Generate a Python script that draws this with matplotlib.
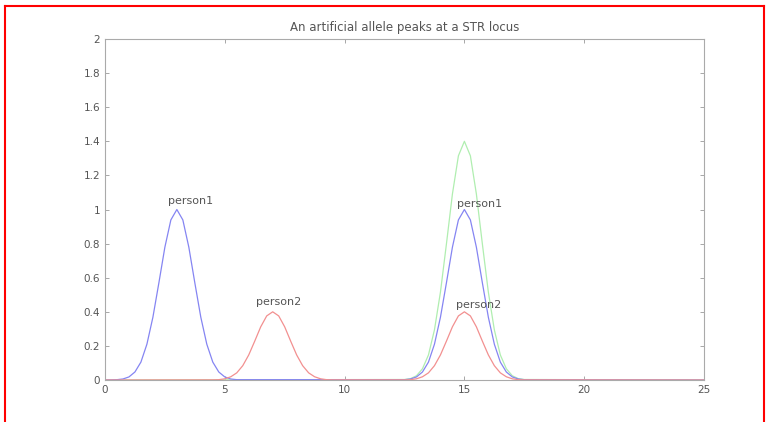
import matplotlib
matplotlib.use("Agg")
import matplotlib.pyplot as plt
import numpy as np
from matplotlib.lines import Line2D

plt.rcParams['font.family'] = ['DejaVu Sans']

# offsets around each allele peak (x units)
offsets = np.arange(-2.5, 2.51, 0.25)

# person1 peaks (height 1) at 3 and 15
p1_centres = [3, 15]
p1_a = [0.002, 0.006, 0.018, 0.047, 0.105, 0.210, 0.368, 0.570, 0.779, 0.939, 1.000,
        0.939, 0.779, 0.570, 0.368, 0.210, 0.105, 0.047, 0.018, 0.006, 0.002]
p1_b = [0.002, 0.006, 0.018, 0.047, 0.105, 0.210, 0.368, 0.570, 0.779, 0.939, 1.000,
        0.939, 0.779, 0.570, 0.368, 0.210, 0.105, 0.047, 0.018, 0.006, 0.002]

# person2 peaks (height 0.4) at 7 and 15
p2_centres = [7, 15]
p2_a = [0.001, 0.002, 0.007, 0.019, 0.042, 0.084, 0.147, 0.228, 0.312, 0.376, 0.400,
        0.376, 0.312, 0.228, 0.147, 0.084, 0.042, 0.019, 0.007, 0.002, 0.001]
p2_b = [0.001, 0.002, 0.007, 0.019, 0.042, 0.084, 0.147, 0.228, 0.312, 0.376, 0.400,
        0.376, 0.312, 0.228, 0.147, 0.084, 0.042, 0.019, 0.007, 0.002, 0.001]

# mixture at the shared allele 15
mix_centre = 15
mix = [0.003, 0.008, 0.025, 0.066, 0.147, 0.294, 0.515, 0.798, 1.091, 1.315, 1.400,
       1.315, 1.091, 0.798, 0.515, 0.294, 0.147, 0.066, 0.025, 0.008, 0.003]

labels = ["person1", "person1", "person2", "person2"]
label_x = [2.65, 14.7, 6.3, 14.65]
label_y = [1.05, 1.03, 0.46, 0.44]

x_ticks = [0, 5, 10, 15, 20, 25]
y_ticks = [0, 0.2, 0.4, 0.6, 0.8, 1, 1.2, 1.4, 1.6, 1.8, 2]

fig = plt.figure(figsize=(7.69, 4.22), dpi=100)
ax = fig.add_axes([0.1365, 0.0995, 0.779, 0.808])

blue_x = np.concatenate([[0], p1_centres[0] + offsets, p1_centres[1] + offsets, [25]])
blue_y = np.concatenate([[0], p1_a, p1_b, [0]])
red_x = np.concatenate([[0], p2_centres[0] + offsets, p2_centres[1] + offsets, [25]])
red_y = np.concatenate([[0], p2_a, p2_b, [0]])
green_x = np.concatenate([[0], mix_centre + offsets, [25]])
green_y = np.concatenate([[0], mix, [0]])

ax.plot(green_x, green_y, color='#b0eeb0', lw=0.9)
ax.plot(blue_x, blue_y, color='#8585f2', lw=0.9)
ax.plot(red_x, red_y, color='#f29090', lw=0.9)

for t, tx, ty in zip(labels, label_x, label_y):
    ax.text(tx, ty, t, fontsize=8, color='#555555', va='center', ha='left')

ax.set_xlim(0, 25)
ax.set_ylim(0, 2)
ax.set_xticks(x_ticks)
ax.set_yticks(y_ticks)
ax.set_yticklabels([f"{v:g}" for v in y_ticks])
ax.tick_params(direction='in', length=3, width=0.6, colors='#999999',
               labelcolor='#555555', labelsize=7.5, top=True, right=True)
for s in ax.spines.values():
    s.set_color('#aaaaaa')
    s.set_linewidth(0.8)
ax.set_title("An artificial allele peaks at a STR locus", fontsize=8.5,
             color='#555555', pad=6)

# red frame around the figure (bottom edge cut off)
fig.add_artist(Line2D([5 / 769, 5 / 769], [0, 1 - 6 / 422], color='red', lw=1.5))
fig.add_artist(Line2D([5 / 769, 764 / 769], [1 - 6 / 422, 1 - 6 / 422], color='red', lw=1.5))
fig.add_artist(Line2D([764 / 769, 764 / 769], [0, 1 - 6 / 422], color='red', lw=1.5))

fig.savefig("out.png", dpi=100)
